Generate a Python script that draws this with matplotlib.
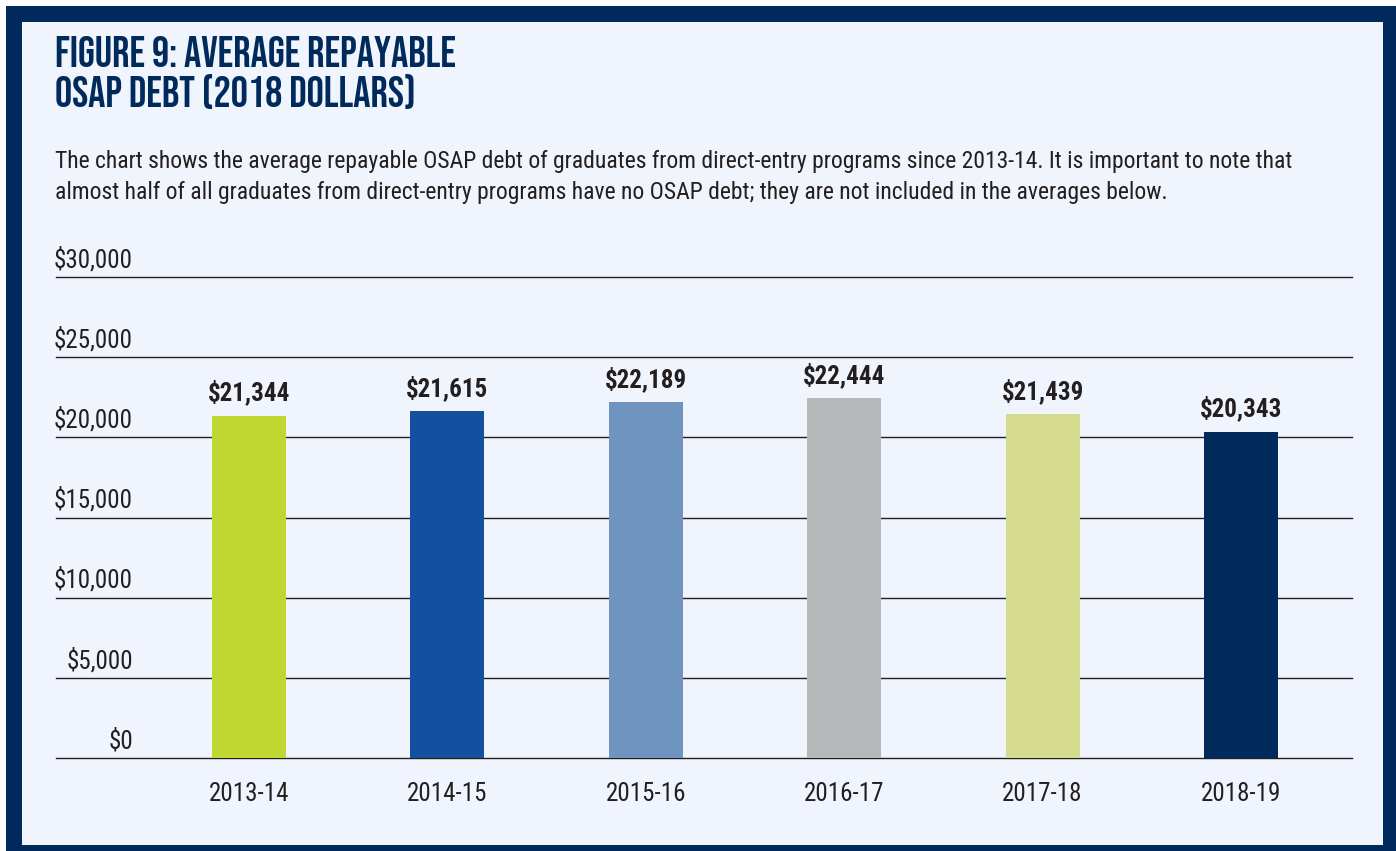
import matplotlib
matplotlib.use("Agg")
import matplotlib.pyplot as plt
from matplotlib.patches import Rectangle

# data
years = ["2013-14", "2014-15", "2015-16", "2016-17", "2017-18", "2018-19"]
debt = [21344, 21615, 22189, 22444, 21439, 20343]
bar_colors = ["#BFD730", "#1351A0", "#7094C0", "#B7B8BA", "#D5DB8E", "#002A5C"]
y_ticks = [0, 5000, 10000, 15000, 20000, 25000, 30000]

NAVY = "#002A5C"
BG = "#F0F4FC"
INK = "#231F20"
TITLE_FONT = ["Bebas Neue", "League Gothic", "DejaVu Sans"]
FONT = ["Roboto Condensed", "DejaVu Sans"]

W, H = 1396, 851
fig = plt.figure(figsize=(W / 100, H / 100), dpi=100)
fig.patch.set_facecolor("white")

# navy frame with light panel inside
fig.patches.append(Rectangle((6 / W, 0), 1 - 6 / W, 1 - 6 / H, transform=fig.transFigure,
                             facecolor=NAVY, edgecolor="none", zorder=-2))
fig.patches.append(Rectangle((22 / W, 6 / H), (1383 - 22) / W, (845 - 22) / H,
                             transform=fig.transFigure, facecolor=BG, edgecolor="none", zorder=-1))

# title + description
fig.text(55 / W, 1 - 67 / H, "FIGURE 9: AVERAGE REPAYABLE", family=TITLE_FONT,
         fontsize=31, color=NAVY, va="baseline")
fig.text(55 / W, 1 - 107 / H, "OSAP DEBT (2018 DOLLARS)", family=TITLE_FONT,
         fontsize=31, color=NAVY, va="baseline")
fig.text(55 / W, 1 - 168 / H,
         "The chart shows the average repayable OSAP debt of graduates from direct-entry programs "
         "since 2013-14. It is important to note that",
         family=FONT, fontsize=17, color=INK, va="baseline")
fig.text(55 / W, 1 - 199 / H,
         "almost half of all graduates from direct-entry programs have no OSAP debt; they are not "
         "included in the averages below.",
         family=FONT, fontsize=17, color=INK, va="baseline")

ax = fig.add_axes([56 / W, 1 - 758 / H, (1352 - 56) / W, (758 - 277) / H])
ax.set_facecolor("none")
x = list(range(len(years)))
ax.bar(x, debt, width=0.373, color=bar_colors, zorder=3)
ax.set_xlim(-0.973, 5.56)
ax.set_ylim(0, 30000)

for i, v in enumerate(debt):
    ax.annotate(f"${v:,}", (i, v), xytext=(0, 11), textcoords="offset points",
                ha="center", va="baseline", family=FONT, weight="bold", fontsize=18, color=INK)

ax.set_yticks(y_ticks)
ax.set_yticklabels([])
ax.yaxis.grid(True, color=INK, linewidth=1.0, zorder=1)
for gl in ax.get_ygridlines():
    gl.set_clip_on(False)   # keep the $0 line full width
ax.tick_params(axis="y", length=0)
for t in y_ticks:
    ax.annotate(f"${t:,}", (0.0594, t), xycoords=("axes fraction", "data"), xytext=(0, 7),
                textcoords="offset points", ha="right", va="baseline",
                family=FONT, fontsize=18, color=INK, annotation_clip=False)

ax.set_xticks(x)
ax.set_xticklabels(years, family=FONT, fontsize=18, color=INK)
ax.tick_params(axis="x", length=0, pad=17)
for s in ax.spines.values():
    s.set_visible(False)

fig.savefig("out.png", dpi=100, facecolor=fig.get_facecolor())
